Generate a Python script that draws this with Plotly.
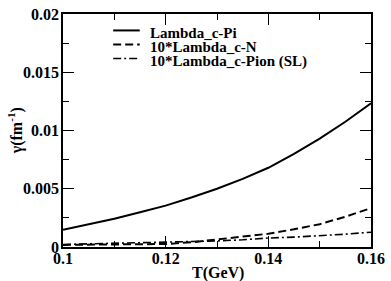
import plotly.graph_objects as go

T = [0.10, 0.105, 0.11, 0.115, 0.12, 0.125, 0.13, 0.135, 0.14, 0.145, 0.15, 0.155, 0.16]
pi_vals = [0.00147, 0.00193, 0.00243, 0.00298, 0.00355, 0.00425, 0.00500, 0.00585, 0.00680, 0.00800, 0.00930, 0.01075, 0.01233]
n_vals = [0.00018, 0.00020, 0.00022, 0.00024, 0.00026, 0.00040, 0.00066, 0.00088, 0.00114, 0.00152, 0.00196, 0.00260, 0.00334]
sl_vals = [0.00022, 0.00026, 0.00030, 0.00034, 0.00040, 0.00045, 0.00052, 0.00062, 0.00077, 0.00085, 0.00095, 0.00110, 0.00127]
names = ["Lambda_c-Pi", "10*Lambda_c-N", "10*Lambda_c-Pion (SL)"]
x_ticks = [0.1, 0.12, 0.14, 0.16]
x_labels = ["0.1", "0.12", "0.14", "0.16"]
y_ticks = [0, 0.005, 0.01, 0.015, 0.02]
y_labels = ["0", "0.005", "0.01", "0.015", "0.02"]

font = "Liberation Serif"
dashes = ["solid", "8px,4px", "8px,3px,2px,3px"]
widths = [2, 2, 1.6]
series = [pi_vals, n_vals, sl_vals]

fig = go.Figure()
for nm, vals, d, w in zip(names, series, dashes, widths):
    fig.add_trace(go.Scatter(x=T, y=vals, name=nm, mode="lines", showlegend=False,
                             line=dict(color="black", width=w, dash=d)))

tf = dict(family=font, size=16, color="black")
axis_common = dict(showline=True, linecolor="black", linewidth=1.5, mirror="ticks", ticks="inside",
                   ticklen=11, tickwidth=1.2, tickcolor="black", showgrid=False, zeroline=False,
                   tickfont=tf, ticklabeloverflow="allow")
fig.update_xaxes(range=[0.1, 0.16], tickvals=x_ticks, ticktext=["<b>%s</b>" % s for s in x_labels],
                 minor=dict(tickvals=[0.11, 0.13, 0.15], ticks="inside", ticklen=6, tickcolor="black", tickwidth=1.2),
                 ticklabelstandoff=-4,
                 **axis_common)
fig.update_yaxes(range=[0, 0.02], tickvals=y_ticks, ticktext=["<b>%s</b>" % s for s in y_labels],
                 minor=dict(tickvals=[0.0025, 0.0075, 0.0125, 0.0175], ticks="inside", ticklen=6, tickcolor="black", tickwidth=1.2),
                 ticklabelstandoff=-1,
                 **axis_common)

# axis titles
fig.add_annotation(text="<b>T(GeV)</b>", xref="paper", yref="paper", x=(221 - 63) / 313, y=(247 - 274) / 241,
                   xanchor="center", yanchor="middle", showarrow=False, font=tf)
fig.add_annotation(text="<b>γ(fm<sup>-1</sup>)</b>", xref="paper", yref="paper", x=(15 - 63) / 313, y=0.5,
                   xanchor="center", yanchor="middle", showarrow=False, textangle=-90, font=tf)

# legend drawn manually
rows_y = [23, 37.5, 52]
for nm, d, w, yy in zip(names, dashes, widths, rows_y):
    py = (247 - yy) / 241
    fig.add_shape(type="line", xref="paper", yref="paper", x0=(114 - 63) / 313, x1=(141 - 63) / 313,
                  y0=py, y1=py, line=dict(color="black", width=w, dash=d))
    fig.add_annotation(text="<b>%s</b>" % nm, xref="paper", yref="paper", x=(149 - 63) / 313, y=(247 - yy - 3) / 241,
                       xanchor="left", yanchor="middle", showarrow=False,
                       font=dict(family=font, size=15, color="black"))

fig.update_layout(width=391, height=281, margin=dict(l=63, r=15, t=6, b=34),
                  plot_bgcolor="white", paper_bgcolor="white",
                  font=dict(family=font, color="black"), showlegend=False)
fig.write_html("out.html", config={"displayModeBar": False},
               post_script="document.body.style.margin='0px';document.body.style.overflow='hidden';")
